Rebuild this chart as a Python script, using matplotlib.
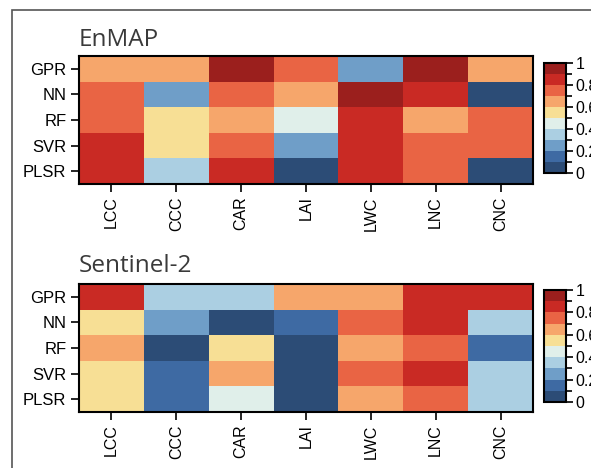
import matplotlib.pyplot as plt
import numpy as np
from matplotlib.colors import ListedColormap, BoundaryNorm
from matplotlib.patches import Rectangle
from matplotlib.ticker import MultipleLocator

# rows = models, cols = variables
models = ["GPR", "NN", "RF", "SVR", "PLSR"]
variables = ["LCC", "CCC", "CAR", "LAI", "LWC", "LNC", "CNC"]

enmap = [
    [0.65, 0.65, 0.95, 0.75, 0.25, 0.95, 0.65],
    [0.75, 0.25, 0.75, 0.65, 0.95, 0.85, 0.05],
    [0.75, 0.55, 0.65, 0.45, 0.85, 0.65, 0.75],
    [0.85, 0.55, 0.75, 0.25, 0.85, 0.75, 0.75],
    [0.85, 0.35, 0.85, 0.05, 0.85, 0.75, 0.05],
]
sentinel2 = [
    [0.85, 0.35, 0.35, 0.65, 0.65, 0.85, 0.85],
    [0.55, 0.25, 0.05, 0.15, 0.75, 0.85, 0.35],
    [0.65, 0.05, 0.55, 0.05, 0.65, 0.75, 0.15],
    [0.55, 0.15, 0.65, 0.05, 0.75, 0.85, 0.35],
    [0.55, 0.15, 0.45, 0.05, 0.65, 0.75, 0.35],
]

# 10 discrete colours, low -> high
colors = ["#2c4c76", "#3e6aa3", "#6f9ec8", "#abcfe2", "#e0efea",
          "#f7df95", "#f6a66b", "#e96444", "#c92a24", "#9b1f1d"]
cmap = ListedColormap(colors)
norm = BoundaryNorm(np.linspace(0, 1, 11), cmap.N)

plt.rcParams['font.family'] = ['Liberation Sans', 'DejaVu Sans']

W, H = 591, 468
fig = plt.figure(figsize=(W / 100, H / 100), dpi=100)

# frame around the figure (cropped at right/bottom)
fig.add_artist(Rectangle((12 / W, -0.1), 2, 0.1 + 1 - 10 / H,
                         transform=fig.transFigure, fill=False,
                         edgecolor="#555555", linewidth=1.2))


def draw(ax, cax, data, title, pad):
    m = ax.pcolormesh(np.array(data), cmap=cmap, norm=norm)
    ax.set_xlim(0, len(variables))
    ax.set_ylim(len(models), 0)
    ax.set_xticks(np.arange(len(variables)) + 0.5)
    ax.set_xticklabels(variables, rotation=90, fontsize=11.5)
    ax.set_yticks(np.arange(len(models)) + 0.5)
    ax.set_yticklabels(models, fontsize=12)
    ax.tick_params(length=6, width=1.2, pad=3)
    for s in ax.spines.values():
        s.set_linewidth(1.5)
    ax.set_title(title, loc="left", fontsize=17.5, family="Open Sans",
                 color="#3a3a3a", pad=pad)
    cb = fig.colorbar(m, cax=cax, ticks=[0, 0.2, 0.4, 0.6, 0.8, 1])
    cb.ax.set_yticklabels(["0", "0.2", "0.4", "0.6", "0.8", "1"])
    cb.ax.yaxis.set_minor_locator(MultipleLocator(0.1))
    cb.ax.tick_params(which="major", length=5, width=1.2, labelsize=11.5, pad=2)
    cb.ax.tick_params(which="minor", length=4, width=1.2)
    cb.outline.set_linewidth(1.5)


ax1 = fig.add_axes([79 / W, 1 - 184 / H, 454 / W, 128 / H])
cax1 = fig.add_axes([544 / W, 1 - 173 / H, 22 / W, 110 / H])
ax2 = fig.add_axes([79 / W, 1 - 412 / H, 454 / W, 128 / H])
cax2 = fig.add_axes([544 / W, 1 - 402 / H, 22 / W, 112 / H])

draw(ax1, cax1, enmap, "EnMAP", 7)
draw(ax2, cax2, sentinel2, "Sentinel-2", 9)

fig.savefig("out.png", dpi=100)
